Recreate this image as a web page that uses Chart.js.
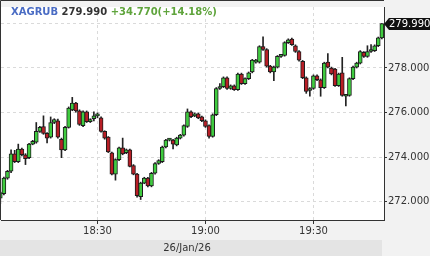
<!DOCTYPE html>
<html>
<head>
<meta charset="utf-8">
<script src="https://cdn.jsdelivr.net/npm/chart.js@4/dist/chart.umd.min.js"></script>
<style>
  body { margin: 0; background: #f2f2f2; }
  #wrap { position: relative; width: 430px; height: 256px; }
  #head { position: absolute; left: 11px; top: 5px; font: bold 10px "DejaVu Sans"; line-height: 13px; white-space: nowrap; }
  #sym { color: #4a6cc4; }
  #last { color: #333333; }
  #chg { color: #5fa43c; }
</style>
</head>
<body>
<div id="wrap">
  <canvas id="chart" width="430" height="256"></canvas>
  <div id="head"><span id="sym"></span> <span id="last"></span> <span id="chg"></span></div>
</div>
<script>
const symbol = "XAGRUB";
const lastText = "279.990";
const changeText = "+34.770(+14.18%)";
const dateText = "26/Jan/26";

const times = [
    "18:03","18:04","18:05","18:06","18:07","18:08","18:09","18:10","18:11","18:12",
    "18:13","18:14","18:15","18:16","18:17","18:18","18:19","18:20","18:21","18:22",
    "18:23","18:24","18:25","18:26","18:27","18:28","18:29","18:30","18:31","18:32",
    "18:33","18:34","18:35","18:36","18:37","18:38","18:39","18:40","18:41","18:42",
    "18:43","18:44","18:45","18:46","18:47","18:48","18:49","18:50","18:51","18:52",
    "18:53","18:54","18:55","18:56","18:57","18:58","18:59","19:00","19:01","19:02",
    "19:03","19:04","19:05","19:06","19:07","19:08","19:09","19:10","19:11","19:12",
    "19:13","19:14","19:15","19:16","19:17","19:18","19:19","19:20","19:21","19:22",
    "19:23","19:24","19:25","19:26","19:27","19:28","19:29","19:30","19:31","19:32",
    "19:33","19:34","19:35","19:36","19:37","19:38","19:39","19:40","19:41","19:42",
    "19:43","19:44","19:45","19:46","19:47","19:48","19:49"
];

const open = [
    272.15,272.35,273.05,273.36,274.14,273.79,274.36,274.10,273.97,274.58,
    274.67,275.15,275.37,275.06,274.89,275.55,275.63,274.80,274.32,275.33,
    276.12,276.42,276.07,275.41,276.03,275.59,275.72,275.85,275.76,275.15,
    274.89,274.19,273.23,273.88,274.41,274.19,274.32,273.62,273.23,272.22,
    272.83,273.05,272.70,273.27,273.71,273.79,274.45,274.76,274.76,274.54,
    274.85,274.98,275.37,276.03,275.85,275.94,275.80,275.63,275.41,274.93,
    275.90,277.08,277.16,277.56,277.08,277.20,277.03,277.73,277.30,277.52,
    277.82,278.26,278.26,278.96,278.83,278.08,277.82,278.04,278.52,278.57,
    279.14,279.30,279.00,278.74,278.30,277.56,276.99,277.08,277.65,277.47,
    277.12,278.26,278.00,277.95,277.21,277.78,276.73,276.77,277.52,278.04,
    278.22,278.70,278.52,278.74,278.78,279.00,279.35
];
const high = [
    272.45,273.10,273.40,274.32,274.30,274.58,274.40,274.15,274.62,274.75,
    275.55,275.38,275.85,275.10,275.80,275.72,275.70,274.85,275.38,276.25,
    276.68,276.46,276.12,276.08,276.07,275.72,276.03,275.98,275.80,275.18,
    274.92,274.22,273.92,274.45,274.85,274.36,274.36,273.66,273.27,272.87,
    273.09,273.09,273.31,273.75,273.88,274.49,274.80,274.84,274.80,274.89,
    275.02,275.45,276.16,276.07,275.98,275.98,275.84,275.67,275.45,275.94,
    277.12,277.30,277.60,277.60,277.24,277.24,277.77,277.77,277.56,277.82,
    278.39,278.39,279.00,279.40,278.87,278.12,278.08,278.56,278.61,279.18,
    279.31,279.34,279.04,278.78,278.34,277.60,277.12,277.69,277.69,277.51,
    278.26,278.65,278.04,277.99,277.77,278.48,276.81,277.56,278.08,278.26,
    278.78,278.74,279.00,279.05,279.04,279.39,279.99
];
const low = [
    271.90,272.30,273.00,273.30,273.75,273.75,274.05,273.66,273.92,274.55,
    274.62,275.10,275.02,274.63,274.85,275.50,274.85,273.97,274.28,275.30,
    276.08,276.02,275.42,275.36,275.55,275.55,275.62,275.76,275.12,274.80,
    274.20,273.20,272.96,273.84,274.10,274.15,273.55,273.20,272.20,272.09,
    272.80,272.66,272.66,273.23,273.67,273.75,274.41,274.72,274.36,274.50,
    274.81,274.94,275.33,275.77,275.81,275.72,275.59,275.33,274.85,274.89,
    275.86,277.04,277.12,277.04,277.04,276.99,276.99,277.26,277.26,277.48,
    277.78,278.22,278.22,278.79,278.04,277.78,277.43,278.00,278.48,278.53,
    279.10,279.01,278.70,278.31,277.52,276.86,276.73,277.04,277.43,276.73,
    277.08,278.00,277.69,277.17,277.17,276.73,276.29,276.73,277.48,278.00,
    278.18,278.48,278.48,278.70,278.74,278.96,279.31
];
const close = [
    272.40,273.05,273.36,274.14,273.79,274.36,274.10,273.93,274.58,274.71,
    275.15,275.33,275.06,274.85,275.55,275.68,274.89,274.32,275.33,276.20,
    276.42,276.07,275.46,276.03,275.59,275.68,275.85,275.90,275.15,274.85,
    274.23,273.23,273.88,274.41,274.14,274.32,273.58,273.23,272.26,272.83,
    273.05,272.70,273.27,273.71,273.84,274.45,274.76,274.80,274.58,274.85,
    274.98,275.41,276.03,275.81,275.94,275.76,275.63,275.37,274.93,275.90,
    277.08,277.16,277.56,277.08,277.20,277.03,277.73,277.30,277.52,277.78,
    278.35,278.35,278.96,278.83,278.08,277.82,278.04,278.52,278.57,279.14,
    279.27,279.05,278.74,278.35,277.56,276.95,277.08,277.65,277.47,277.12,
    278.22,278.04,277.73,277.21,277.73,276.77,276.77,277.52,278.04,278.22,
    278.74,278.52,278.74,278.78,279.00,279.35,279.99
];

const xTickTimes = ["18:30", "19:00", "19:30"];
const yTicks = [272, 274, 276, 278, 280];

document.getElementById("sym").textContent = symbol;
document.getElementById("last").textContent = lastText;
document.getElementById("chg").textContent = changeText;

// minutes after 18:00, used as the x value
function toMin(t)
{
    const p = t.split(":");
    return (parseInt(p[0]) - 18) * 60 + parseInt(p[1]);
}

const bodies = times.map((t, i) => ({ x: toMin(t), y: [open[i], close[i]] }));
const wicks  = times.map((t, i) => ({ x: toMin(t), y: [low[i], high[i]] }));

const UP = "#3fcb3f";
const DOWN = "#b81e26";
const FONT = { family: "DejaVu Sans", size: 10 };

const frame = {
    id: "frame",
    beforeDraw(chart)
    {
        const ctx = chart.ctx;
        const a = chart.chartArea;
        ctx.save();
        ctx.fillStyle = "#f2f2f2";
        ctx.fillRect(0, 0, chart.width, chart.height);
        ctx.fillStyle = "#ffffff";
        ctx.fillRect(a.left, a.top, a.right - a.left, a.bottom - a.top);
        ctx.fillStyle = "#e4e4e4";
        ctx.fillRect(0, 240, a.right - 2, chart.height - 240);
        ctx.strokeStyle = "#333333";
        ctx.lineWidth = 1;
        ctx.beginPath();
        ctx.moveTo(0.5, a.bottom);
        ctx.lineTo(0.5, 0.5);
        ctx.lineTo(a.right, 0.5);
        ctx.stroke();
        ctx.restore();
    },
    afterDraw(chart)
    {
        const ctx = chart.ctx;
        const a = chart.chartArea;
        const y = Math.round(chart.scales.y.getPixelForValue(close[close.length - 1]));
        ctx.save();
        ctx.fillStyle = "#333333";
        ctx.font = "10px 'DejaVu Sans'";
        ctx.textAlign = "center";
        ctx.textBaseline = "middle";
        ctx.fillText(dateText, 187, 248);

        ctx.fillStyle = "#111111";
        ctx.beginPath();
        ctx.moveTo(a.right, y);
        ctx.lineTo(a.right + 5, y - 6);
        ctx.lineTo(430, y - 6);
        ctx.lineTo(430, y + 6);
        ctx.lineTo(a.right + 5, y + 6);
        ctx.closePath();
        ctx.fill();
        ctx.fillStyle = "#ffffff";
        ctx.textAlign = "left";
        ctx.fillText(lastText, a.right + 5, y + 0.5);
        ctx.restore();
    }
};

new Chart(document.getElementById("chart"),
{
    type: "bar",
    data:
    {
        datasets:
        [
            {
                data: bodies,
                grouped: false,
                barThickness: 4,
                minBarLength: 2,
                borderWidth: 1,
                borderSkipped: false,
                borderColor: "#1c1c1c",
                backgroundColor: (c) => (c.raw && c.raw.y[1] >= c.raw.y[0]) ? UP : DOWN
            },
            {
                data: wicks,
                grouped: false,
                barThickness: 1,
                borderWidth: 0,
                backgroundColor: "#222222"
            }
        ]
    },
    options:
    {
        responsive: false,
        devicePixelRatio: 1,
        animation: false,
        layout: { padding: { left: 1, top: 1, right: 0, bottom: 0 } },
        plugins: { legend: { display: false }, tooltip: { enabled: false } },
        scales:
        {
            x:
            {
                type: "linear",
                offset: false,
                min: 3.2,
                max: 109.6,
                afterBuildTicks: (s) => { s.ticks = xTickTimes.map(t => ({ value: toMin(t) })); },
                afterFit: (s) => { s.height = 36; },
                ticks:
                {
                    font: FONT,
                    color: "#333333",
                    padding: 1,
                    maxRotation: 0,
                    callback: (v) => xTickTimes.find(t => toMin(t) === v) || ""
                },
                grid: { offset: false, color: "#dadada", tickColor: "#333333", tickLength: 4 },
                border: { display: true, color: "#333333", width: 1, dash: [3, 3] }
            },
            y:
            {
                position: "right",
                min: 271.17,
                max: 280.74,
                afterBuildTicks: (s) => { s.ticks = yTicks.map(v => ({ value: v })); },
                afterFit: (s) => { s.width = 46; },
                ticks:
                {
                    font: FONT,
                    color: "#333333",
                    padding: 1,
                    callback: (v) => v.toFixed(3)
                },
                grid: { color: "#dadada", tickColor: "#333333", tickLength: 3 },
                border: { display: true, color: "#333333", width: 1, dash: [3, 3] }
            }
        }
    },
    plugins: [frame]
});
</script>
</body>
</html>
